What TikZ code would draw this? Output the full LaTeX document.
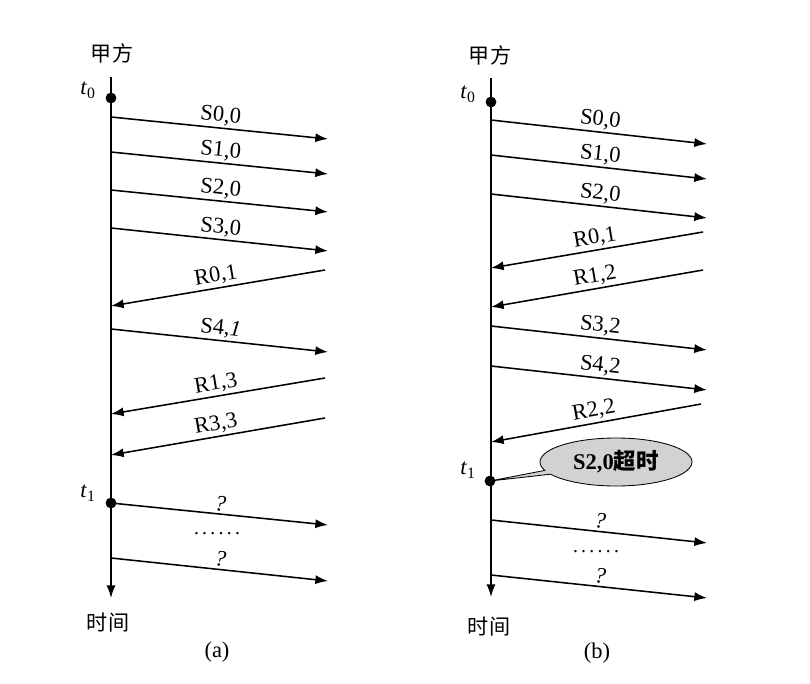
\documentclass[tikz,border=0pt]{standalone}
\usepackage{fontspec}
\setmainfont{Liberation Serif}
\newfontfamily\cjk{Noto Sans CJK SC}
\usetikzlibrary{arrows.meta,shapes.callouts}

\begin{document}
\begin{tikzpicture}[x=0.025cm,y=-0.025cm,
	msg/.style={-{Latex[length=9pt,width=6.5pt]},line width=1.1pt},
	lbl/.style={sloped,above,inner sep=1.5pt,font=\fontsize{16}{18}\selectfont},
	dot/.style={shape=circle,fill=black,inner sep=0pt,minimum size=0.27cm},
	txt/.style={font=\fontsize{16}{18}\selectfont},
	cjktxt/.style={font=\cjk\fontsize{15}{17}\selectfont},
	dotstxt/.style={font=\fontsize{14}{16}\selectfont,inner sep=0pt,anchor=base},
	bubble/.style={ellipse callout,draw,fill=gray!35,line width=0.6pt,
		minimum width=3.8cm,minimum height=1.2cm,inner sep=0pt,
		callout pointer arc=10}]
	\useasboundingbox (0,0) rectangle (810,684);
	% (a)
	\node [cjktxt] (ha) at (112,53) {甲方};
	\coordinate (a0) at (111,77);
	\coordinate (a9) at (111,598);
	\draw [msg] (a0) -- (a9);
	\node [dot] (at0) at (111,98) {};
	\node [txt] (lat0) at (88,90) {\textit{t}\textsubscript{0}};
	\node [dot] (at1) at (111,503) {};
	\node [txt] (lat1) at (88,493) {\textit{t}\textsubscript{1}};
	\coordinate (al1) at (111,117); \coordinate (ar1) at (328,139);
	\coordinate (al2) at (111,152); \coordinate (ar2) at (328,174);
	\coordinate (al3) at (111,190); \coordinate (ar3) at (328,212);
	\coordinate (al4) at (111,228); \coordinate (ar4) at (328,251);
	\coordinate (ar5) at (325,270); \coordinate (al5) at (111,306);
	\coordinate (al6) at (111,329); \coordinate (ar6) at (328,352);
	\coordinate (ar7) at (325,378); \coordinate (al7) at (111,414);
	\coordinate (ar8) at (325,418); \coordinate (al8) at (111,455);
	\coordinate (ar9) at (328,525);
	\coordinate (al10) at (111,558); \coordinate (ar10) at (328,581);
	\draw [msg] (al1) -- node[lbl] {S0,0} (ar1);
	\draw [msg] (al2) -- node[lbl] {S1,0} (ar2);
	\draw [msg] (al3) -- node[lbl] {S2,0} (ar3);
	\draw [msg] (al4) -- node[lbl] {S3,0} (ar4);
	\draw [msg] (ar5) -- node[lbl] {R0,1} (al5);
	\draw [msg] (al6) -- node[lbl] {S4,\textit{1}} (ar6);
	\draw [msg] (ar7) -- node[lbl] {R1,3} (al7);
	\draw [msg] (ar8) -- node[lbl] {R3,3} (al8);
	\draw [msg] (at1.center) -- node[lbl] {\textit{?}} (ar9);
	\draw [msg] (al10) -- node[lbl] {\textit{?}} (ar10);
	\node [dotstxt] (adots) at (217,534) {.\,.\,.\,.\,.\,.};
	\node [cjktxt] (ta) at (108,623) {时间};
	\node [txt] (capa) at (217,652) {(a)};
	% (b)
	\node [cjktxt] (hb) at (490,55) {甲方};
	\coordinate (b0) at (491,78);
	\coordinate (b9) at (491,597);
	\draw [msg] (b0) -- (b9);
	\node [dot] (bt0) at (491,102) {};
	\node [txt] (lbt0) at (468,94) {\textit{t}\textsubscript{0}};
	\node [dot] (bt1) at (490,481) {};
	\node [txt] (lbt1) at (468,470) {\textit{t}\textsubscript{1}};
	\coordinate (bl1) at (491,120); \coordinate (br1) at (707,144);
	\coordinate (bl2) at (491,155); \coordinate (br2) at (707,179);
	\coordinate (bl3) at (491,194); \coordinate (br3) at (707,218);
	\coordinate (br4) at (703,232); \coordinate (bl4) at (491,268);
	\coordinate (br5) at (703,270); \coordinate (bl5) at (491,307);
	\coordinate (bl6) at (491,326); \coordinate (br6) at (707,350);
	\coordinate (bl7) at (491,366); \coordinate (br7) at (707,390);
	\coordinate (br8) at (701,404); \coordinate (bl8) at (491,442);
	\coordinate (bl9) at (491,520); \coordinate (br9) at (707,543);
	\coordinate (bl10) at (491,575); \coordinate (br10) at (707,598);
	\draw [msg] (bl1) -- node[lbl] {S0,0} (br1);
	\draw [msg] (bl2) -- node[lbl] {S1,0} (br2);
	\draw [msg] (bl3) -- node[lbl] {S2,0} (br3);
	\draw [msg] (br4) -- node[lbl] {R0,1} (bl4);
	\draw [msg] (br5) -- node[lbl] {R1,2} (bl5);
	\draw [msg] (bl6) -- node[lbl] {S3,2} (br6);
	\draw [msg] (bl7) -- node[lbl] {S4,2} (br7);
	\draw [msg] (br8) -- node[lbl] {R2,2} (bl8);
	\draw [msg] (bl9) -- node[lbl] {\textit{?}} (br9);
	\draw [msg] (bl10) -- node[lbl] {\textit{?}} (br10);
	\node [dotstxt] (bdots) at (596,552) {.\,.\,.\,.\,.\,.};
	\node [bubble,callout absolute pointer={(bt1.center)}] (late) at (616,462)
		{\fontsize{16}{18}\selectfont\textbf{S2,0}{\cjk\bfseries 超时}};
	\node [cjktxt] (tb) at (489,627) {时间};
	\node [txt] (capb) at (597,653) {(b)};
\end{tikzpicture}
\end{document}
